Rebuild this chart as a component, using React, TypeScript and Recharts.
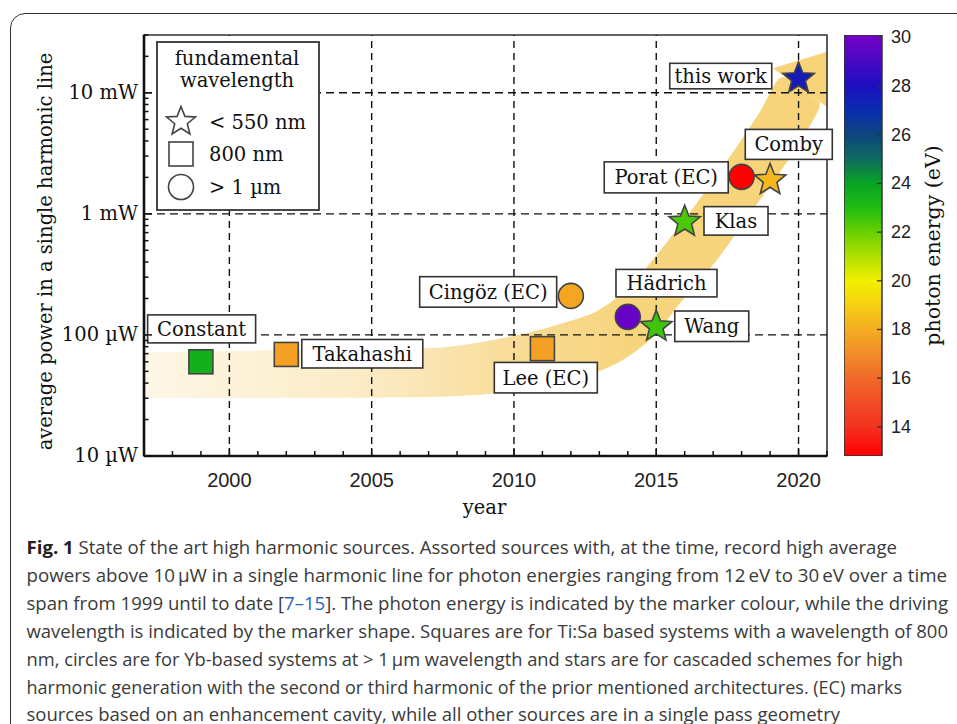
import React from 'react';
import {
  ComposedChart,
  BarChart,
  Bar,
  Area,
  Scatter,
  XAxis,
  YAxis,
  ReferenceLine,
  ReferenceArea,
  Legend,
} from 'recharts';

// sources (year, average power in µW, photon energy in eV)
const sourceNames = ['Constant', 'Takahashi', 'Lee (EC)', 'Cingöz (EC)', 'Hädrich', 'Wang', 'Klas', 'Porat (EC)', 'Comby', 'this work'];
const sourceYears = [1999, 2002, 2011, 2012, 2014, 2015, 2016, 2018, 2019, 2020];
const sourcePowerUW = [60, 69, 77, 210, 141, 117, 860, 2020, 1900, 13100];
const sourceEnergyEV = [23.5, 17.6, 17.6, 17.8, 29.7, 22.6, 22.4, 12.8, 18.3, 27.6];
const sourceShapes = ['square', 'square', 'square', 'circle', 'circle', 'star', 'star', 'circle', 'star', 'star'];

// the yellow trend arrow: band edges (µW) and arrow head
const bandYears = [1997.0, 2002.5, 2007.06, 2009.41, 2010.57, 2011.73, 2012.92, 2013.73, 2014.43, 2015.03, 2015.73, 2016.43, 2017.13, 2017.94, 2018.64, 2019.45, 2020.22, 2020.74];
const bandUpper = [72.3, 75.0, 78.0, 92.3, 105.3, 125.4, 157.5, 213.5, 312.3, 461.3, 750.4, 1237, 2083, 3916, 6928, 13480, 10310, 8380];
const bandLower = [30.1, 30.1, 30.7, 33.1, 36.8, 40.8, 49.4, 60.3, 77.8, 103.7, 170.0, 268.3, 415.5, 763.3, 1300, 2399, 4474, 7475];
const headYears = [2019.1, 2021.01, 2021.41];
const headUpper = [15905, 21810, 6543];
const headLower = [15905, 7586, 6543];

// axes
const yearTicks = [1997, 1998, 1999, 2000, 2001, 2002, 2003, 2004, 2005, 2006, 2007, 2008, 2009, 2010, 2011, 2012, 2013, 2014, 2015, 2016, 2017, 2018, 2019, 2020, 2021];
const yearLabels = [2000, 2005, 2010, 2015, 2020];
const powerTicks = [10, 20, 30, 40, 50, 60, 70, 80, 90, 100, 200, 300, 400, 500, 600, 700, 800, 900, 1000, 2000, 3000, 4000, 5000, 6000, 7000, 8000, 9000, 10000, 20000, 30000];
const powerLabels: Record<number, string> = { 10: '10 µW', 100: '100 µW', 1000: '1 mW', 10000: '10 mW' };
const gridYears = [2000, 2005, 2010, 2015, 2020];
const gridPowers = [100, 1000, 10000];
const energyRange = [12.8, 30.1];
const energyTicks = [14, 16, 18, 20, 22, 24, 26, 28, 30];

// colour map of the colour bar
const cmapEnergy = [12.8, 14, 15, 16, 17, 18, 19, 20, 21, 22, 23, 24, 25, 26, 27, 28, 29, 30.1];
const cmapColor = ['#ff0000', '#f3321f', '#f24d27', '#f06a28', '#f28c28', '#f4ad22', '#f5cf12', '#f2f000', '#b0e000', '#68d000', '#20bc12', '#08a424', '#0f6a5e', '#0c467e', '#0a2caf', '#1a10c0', '#4808c4', '#7800c8'];

const SERIF = '"DejaVu Serif", serif';
const SANS = '"Liberation Sans", Arial, sans-serif';

// label boxes relative to their marker
const labelLayout: Record<string, { dx: number; dy: number; w: number; h: number }> = {
  'Constant': { dx: 0.7, dy: -32.9, w: 108, h: 28 },
  'Takahashi': { dx: 76, dy: -0.7, w: 121, h: 28.5 },
  'Lee (EC)': { dx: 3.4, dy: 29, w: 103, h: 30.5 },
  'Cingöz (EC)': { dx: -82.7, dy: -4, w: 137, h: 30.5 },
  'Hädrich': { dx: 38.7, dy: -33.7, w: 101, h: 27.5 },
  'Wang': { dx: 55.5, dy: -0.4, w: 74, h: 30.5 },
  'Klas': { dx: 51.3, dy: -0.9, w: 64, h: 28.5 },
  'Porat (EC)': { dx: -75.4, dy: 0.5, w: 124, h: 31 },
  'Comby': { dx: 18.7, dy: -35.7, w: 87, h: 30 },
  'this work': { dx: -77.8, dy: -2.5, w: 102, h: 25.5 },
};

const sources = sourceNames.map((name, i) => ({
  name,
  year: sourceYears[i],
  power: sourcePowerUW[i],
  energy: sourceEnergyEV[i],
  shape: sourceShapes[i],
}));
const bandData = bandYears.map((year, i) => ({ year, range: [bandLower[i], bandUpper[i]] }));
const headData = headYears.map((year, i) => ({ year, range: [headLower[i], headUpper[i]] }));

function hexToRgb(h: string) {
  return [parseInt(h.slice(1, 3), 16), parseInt(h.slice(3, 5), 16), parseInt(h.slice(5, 7), 16)];
}

function energyColor(e: number) {
  if (e <= cmapEnergy[0]) return cmapColor[0];
  for (let i = 1; i < cmapEnergy.length; i++) {
    if (e <= cmapEnergy[i]) {
      const t = (e - cmapEnergy[i - 1]) / (cmapEnergy[i] - cmapEnergy[i - 1]);
      const a = hexToRgb(cmapColor[i - 1]);
      const b = hexToRgb(cmapColor[i]);
      const c = a.map((v, k) => Math.round(v + (b[k] - v) * t));
      return `rgb(${c[0]},${c[1]},${c[2]})`;
    }
  }
  return cmapColor[cmapColor.length - 1];
}

function starPoints(cx: number, cy: number, ro: number, ri: number) {
  const pts: string[] = [];
  for (let k = 0; k < 10; k++) {
    const r = k % 2 === 0 ? ro : ri;
    const a = -Math.PI / 2 + (k * Math.PI) / 5;
    pts.push(`${(cx + r * Math.cos(a)).toFixed(2)},${(cy + r * Math.sin(a)).toFixed(2)}`);
  }
  return pts.join(' ');
}

function MarkerGlyph({ shape, cx, cy, fill, stroke, size }: any) {
  if (shape === 'square') {
    return <rect x={cx - size} y={cy - size} width={size * 2} height={size * 2} fill={fill} stroke={stroke} strokeWidth={1.6} />;
  }
  if (shape === 'circle') {
    return <circle cx={cx} cy={cy} r={size + 0.5} fill={fill} stroke={stroke} strokeWidth={1.6} />;
  }
  return <polygon points={starPoints(cx, cy, size * 1.38, size * 0.6)} fill={fill} stroke={stroke} strokeWidth={1.6} strokeLinejoin="miter" />;
}

function SourceMarker(props: any) {
  const { cx, cy, payload } = props;
  const lay = labelLayout[payload.name];
  return (
    <g>
      <MarkerGlyph shape={payload.shape} cx={cx} cy={cy} size={12} fill={energyColor(payload.energy)} stroke="#444" />
      <rect x={cx + lay.dx - lay.w / 2} y={cy + lay.dy - lay.h / 2} width={lay.w} height={lay.h} fill="#fff" stroke="#333" strokeWidth={1.6} />
      <text x={cx + lay.dx} y={cy + lay.dy + 7} textAnchor="middle" fontFamily={SERIF} fontSize={19.5} fill="#111">
        {payload.name}
      </text>
    </g>
  );
}

function YearTick(props: any) {
  const { x, y, payload } = props;
  const major = yearLabels.includes(payload.value);
  return (
    <g>
      <line x1={x} x2={x} y1={y} y2={y - (major ? 8 : 5)} stroke="#111" strokeWidth={1.5} />
      {major && (
        <text x={x} y={y + 30.5} textAnchor="middle" fontFamily={SANS} fontSize={20} fill="#222">
          {payload.value}
        </text>
      )}
    </g>
  );
}

function PowerTick(props: any) {
  const { x, y, payload } = props;
  const label = powerLabels[payload.value];
  return (
    <g>
      <line x1={x} x2={x + (label ? 8 : 4.5)} y1={y} y2={y} stroke="#111" strokeWidth={1.5} />
      {label && (
        <text x={x - 6} y={y + 6} textAnchor="end" fontFamily={SERIF} fontSize={19.5} fill="#111">
          {label}
        </text>
      )}
    </g>
  );
}

function EnergyTick(props: any) {
  const { x, y, payload } = props;
  return (
    <g>
      <line x1={x - 5} x2={x} y1={y} y2={y} stroke="#333" strokeWidth={1.3} />
      <text x={x + 9} y={y + 6} textAnchor="start" fontFamily={SANS} fontSize={18} fill="#222">
        {payload.value}
      </text>
    </g>
  );
}

function PowerTitle(props: any) {
  const vb = props.viewBox || { x: 0, y: 35, height: 421 };
  const x = vb.x + 45;
  const y = vb.y + vb.height / 2 + 6;
  return (
    <text x={x} y={y} transform={`rotate(-90, ${x}, ${y})`} textAnchor="middle" dominantBaseline="central" fontFamily={SERIF} fontSize={19.5} fill="#111">
      average power in a single harmonic line
    </text>
  );
}

function YearTitle(props: any) {
  const vb = props.viewBox || { x: 144, y: 456, width: 683 };
  return (
    <text x={vb.x + vb.width / 2 - 1} y={vb.y + 58} textAnchor="middle" fontFamily={SERIF} fontSize={19.5} fill="#111">
      year
    </text>
  );
}

function EnergyTitle(props: any) {
  const vb = props.viewBox || { x: 38, y: 35, height: 421 };
  const x = vb.x + 51;
  const y = vb.y + vb.height / 2;
  return (
    <text x={x} y={y} transform={`rotate(-90, ${x}, ${y})`} textAnchor="middle" dominantBaseline="central" fontFamily={SERIF} fontSize={20.5} fill="#111">
      photon energy (eV)
    </text>
  );
}

function ShapeLegend() {
  const items = [
    { shape: 'star', text: '< 550 nm', y: 80.7 },
    { shape: 'square', text: '800 nm', y: 113 },
    { shape: 'circle', text: '> 1 µm', y: 146 },
  ];
  return (
    <svg width={164} height={170} style={{ display: 'block' }}>
      <rect x={1} y={1} width={162} height={168} fill="#fff" stroke="#333" strokeWidth={1.8} />
      <text x={81} y={24} textAnchor="middle" fontFamily={SERIF} fontSize={19.5} fill="#111">fundamental</text>
      <text x={81} y={46} textAnchor="middle" fontFamily={SERIF} fontSize={19.5} fill="#111">wavelength</text>
      {items.map((it) => (
        <g key={it.text}>
          <MarkerGlyph shape={it.shape} cx={25} cy={it.y} size={it.shape === 'star' ? 11 : 12} fill="none" stroke="#444" />
          <text x={53} y={it.y + 7} fontFamily={SERIF} fontSize={19.5} fill="#111">{it.text}</text>
        </g>
      ))}
    </svg>
  );
}

const captionLines = [
  { end: 897, parts: [{ t: 'Fig. 1', bold: true }, { t: ' State of the art high harmonic sources. Assorted sources with, at the time, record high average' }] },
  { end: 947, parts: [{ t: 'powers above 10\u2009µW in a single harmonic line for photon energies ranging from 12\u2009eV to 30\u2009eV over a time' }] },
  { end: 948, parts: [{ t: 'span from 1999 until to date [' }, { t: '7–15', link: true }, { t: ']. The photon energy is indicated by the marker colour, while the driving' }] },
  { end: 948, parts: [{ t: 'wavelength is indicated by the marker shape. Squares are for Ti:Sa based systems with a wavelength of 800' }] },
  { end: 903, parts: [{ t: 'nm, circles are for Yb-based systems at > 1\u2009µm wavelength and stars are for cascaded schemes for high' }] },
  { end: 902, parts: [{ t: 'harmonic generation with the second or third harmonic of the prior mentioned architectures. (EC) marks' }] },
  { end: 840, parts: [{ t: 'sources based on an enhancement cavity, while all other sources are in a single pass geometry' }] },
];

function Caption() {
  const left = 26.5;
  return (
    <svg width={957} height={194} style={{ position: 'absolute', left: 0, top: 530 }}>
      {captionLines.map((line, i) => (
        <text
          key={i}
          x={left}
          y={24 + i * 27.9}
          textLength={line.end - left}
          lengthAdjust="spacingAndGlyphs"
          fontFamily='"Open Sans", sans-serif'
          fontSize={18.5}
          fill="#3a3a3a"
        >
          {line.parts.map((p: any, k: number) => (
            <tspan key={k} fontWeight={p.bold ? 700 : 400} fill={p.link ? '#2a62c4' : p.bold ? '#222' : '#3a3a3a'}>
              {p.t}
            </tspan>
          ))}
        </text>
      ))}
    </svg>
  );
}

export default function App() {
  const cbSpan = energyRange[1] - energyRange[0];
  // gradient stops must run top (high energy) to bottom (low energy)
  const cbStops = cmapEnergy
    .map((e, i) => ({ offset: (energyRange[1] - e) / cbSpan, color: cmapColor[i] }))
    .reverse();
  return (
    <div style={{ position: 'absolute', left: 0, top: 0, width: 957, height: 724, overflow: 'hidden', background: '#fff' }}>
      <div
        style={{
          position: 'absolute',
          left: 10,
          top: 13,
          width: 975,
          height: 740,
          border: '1.6px solid #333',
          borderRadius: 15,
          boxSizing: 'border-box',
        }}
      />

      <div style={{ position: 'absolute', left: 0, top: 0 }}>
        <ComposedChart width={900} height={520} margin={{ top: 35, right: 73, bottom: 24, left: 0 }}>
          <defs>
            <linearGradient id="bandGrad" x1="0" y1="0" x2="1" y2="0">
              <stop offset="0" stopColor="#fef7e6" />
              <stop offset="0.34" stopColor="#fbebc4" />
              <stop offset="0.55" stopColor="#f8dc96" />
              <stop offset="0.72" stopColor="#f7d57d" />
              <stop offset="1" stopColor="#f7d47a" />
            </linearGradient>
          </defs>

          <XAxis xAxisId="band" dataKey="year" type="number" domain={[1997, 2021]} allowDataOverflow hide height={0} />
          <XAxis
            xAxisId="main"
            dataKey="year"
            type="number"
            domain={[1997, 2021]}
            ticks={yearTicks}
            interval={0}
            tickLine={false}
            tickSize={0}
            tickMargin={0}
            tick={YearTick}
            axisLine={{ stroke: '#111', strokeWidth: 2.6 }}
            height={40}
            label={YearTitle}
          />
          <YAxis
            dataKey="power"
            scale="log"
            domain={[10, 30000]}
            ticks={powerTicks}
            interval={0}
            tickLine={false}
            tickSize={0}
            tickMargin={0}
            tick={PowerTick}
            axisLine={{ stroke: '#111', strokeWidth: 2.6 }}
            width={144}
            label={PowerTitle}
          />

          <Area xAxisId="band" data={bandData} dataKey="range" type="monotone" fill="url(#bandGrad)" fillOpacity={1} stroke="none" isAnimationActive={false} />
          <Area xAxisId="band" data={headData} dataKey="range" type="linear" fill="#f7d47a" fillOpacity={1} stroke="none" isAnimationActive={false} />

          <ReferenceArea xAxisId="main" x1={1997} x2={2021} y1={10} y2={30000} fill="none" stroke="#333" strokeWidth={1.6} />
          {gridYears.map((yr) => (
            <ReferenceLine key={`gx${yr}`} xAxisId="main" x={yr} stroke="#111" strokeWidth={1.4} strokeDasharray="7 5" />
          ))}
          {gridPowers.map((p) => (
            <ReferenceLine key={`gy${p}`} xAxisId="main" y={p} stroke="#111" strokeWidth={1.4} strokeDasharray="8 5" />
          ))}

          <Scatter xAxisId="main" data={sources} shape={SourceMarker} isAnimationActive={false} />

          <Legend
            layout="horizontal"
            verticalAlign="middle"
            align="center"
            wrapperStyle={{ left: 156, top: 41, width: 164, height: 170 }}
            content={() => <ShapeLegend />}
          />
        </ComposedChart>
      </div>

      <div style={{ position: 'absolute', left: 844, top: 0 }}>
        <BarChart width={113} height={520} margin={{ top: 35, right: 15, bottom: 64, left: 0 }} data={[{ name: 'colour bar', range: energyRange }]} barCategoryGap={0}>
          <defs>
            <linearGradient id="cbGrad" x1="0" y1="0" x2="0" y2="1">
              {cbStops.map((s, i) => (
                <stop key={i} offset={s.offset} stopColor={s.color} />
              ))}
            </linearGradient>
          </defs>
          <XAxis dataKey="name" hide />
          <YAxis
            orientation="right"
            type="number"
            domain={energyRange}
            allowDataOverflow
            ticks={energyTicks}
            interval={0}
            axisLine={false}
            tickLine={false}
            tickSize={0}
            tickMargin={0}
            tick={EnergyTick}
            width={60}
            label={EnergyTitle}
          />
          <Bar dataKey="range" fill="url(#cbGrad)" stroke="#333" strokeWidth={1.5} isAnimationActive={false} />
        </BarChart>
      </div>

      <Caption />
    </div>
  );
}
